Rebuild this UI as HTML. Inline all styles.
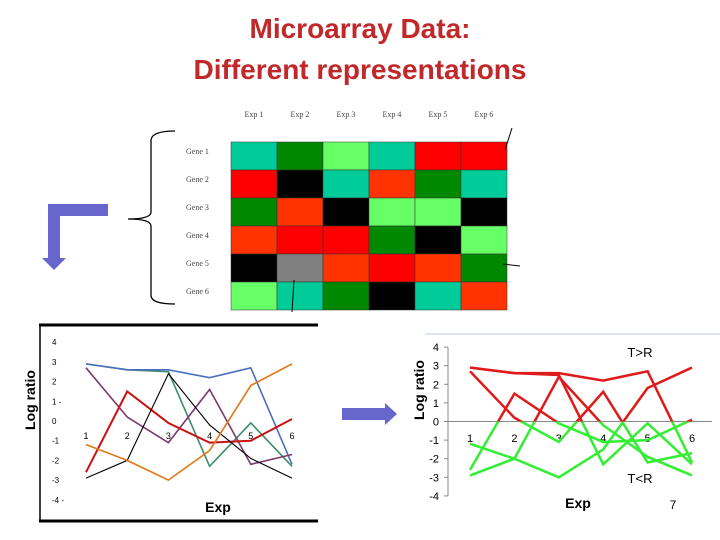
<!DOCTYPE html>
<html><head><meta charset="utf-8"><style>
body{margin:0;background:#fff;}
svg{display:block;font-family:"Liberation Sans",sans-serif;}
</style></head><body>
<svg id="s" width="720" height="540" xmlns="http://www.w3.org/2000/svg">
<text x="360" y="38" text-anchor="middle" font-size="28" font-weight="bold" fill="#c0282a">Microarray Data:</text>
<text x="360" y="79" text-anchor="middle" font-size="28" font-weight="bold" fill="#c0282a">Different representations</text>
<g id="heat"></g>
<path d="M175,131 Q152,131 151,140 L151,212 Q151,219 128,219 Q151,219 151,226 L151,296 Q152,304 175,304" fill="none" stroke="#000" stroke-width="1.3"/>
<path d="M108,204 L48,204 L48,258 L42,258 L54,270 L66,258 L60,258 L60,216 L108,216 Z" fill="#6666cc"/>
<path d="M342,408 L385,408 L385,403 L397,414 L385,425 L385,420 L342,420 Z" fill="#6666cc"/>
<g stroke="#000" stroke-width="1">
<line x1="512" y1="128" x2="505" y2="150"/><line x1="292" y1="312" x2="294" y2="280"/><line x1="520" y1="266" x2="503" y2="264"/>
</g>
<g id="left"></g>
<g id="right"></g>
</svg>
<script>
const heatColors=[["#00cc99","#008800","#66ff66","#00cc99","#ff0000","#ff0000"],["#ff0000","#000000","#00cc99","#ff3300","#008800","#00cc99"],["#008800","#ff3300","#000000","#66ff66","#66ff66","#000000"],["#ff3300","#ff0000","#ff0000","#008800","#000000","#66ff66"],["#000000","#808080","#ff3300","#ff0000","#ff3300","#008800"],["#66ff66","#00cc99","#008800","#000000","#00cc99","#ff3300"]];
const expNames=["Exp 1","Exp 2","Exp 3","Exp 4","Exp 5","Exp 6"];
const geneNames=["Gene 1","Gene 2","Gene 3","Gene 4","Gene 5","Gene 6"];
const xCats=[1,2,3,4,5,6];
const yTicks=[4,3,2,1,0,-1,-2,-3,-4];
const sGreen=[2.9,2.6,2.5,-2.3,-0.1,-2.3];
const sBlue=[2.9,2.6,2.6,2.2,2.7,-2.2];
const sPurple=[2.7,0.2,-1.1,1.6,-2.2,-1.7];
const sRed=[-2.6,1.5,-0.1,-1.1,-1.0,0.1];
const sBlack=[-2.9,-2.0,2.4,-0.2,-1.9,-2.9];
const sOrange=[-1.2,-2.0,-3.0,-1.5,1.8,2.9];
const NS="http://www.w3.org/2000/svg";
function mk(p,t,a,txt){const e=document.createElementNS(NS,t);for(const k in a)e.setAttribute(k,a[k]);if(txt!==undefined)e.textContent=txt;p.appendChild(e);return e;}
const H=document.getElementById('heat');
const cx0=231,cy0=142,cw=46,ch=28;
heatColors.forEach((row,r)=>row.forEach((c,j)=>{const e=mk(H,'rect',{x:cx0+j*cw,y:cy0+r*ch,width:cw,height:ch,fill:c,stroke:'#333','stroke-width':0.5});

}));
expNames.forEach((n,j)=>{const e=mk(H,'text',{x:cx0+j*cw+23,y:117,'text-anchor':'middle','font-size':8,fill:'#444','font-family':'Liberation Serif,serif'},n);

});
geneNames.forEach((n,r)=>{const e=mk(H,'text',{x:186,y:cy0+r*ch+12,'font-size':8,fill:'#444','font-family':'Liberation Serif,serif'},n);

});
const L=document.getElementById('left');
const lx=i=>86+(i-1)*41.2, ly=v=>421-19.7*v;
mk(L,'line',{x1:39,y1:325,x2:318,y2:325,stroke:'#000','stroke-width':3});
mk(L,'line',{x1:39,y1:521,x2:318,y2:521,stroke:'#000','stroke-width':3});
mk(L,'line',{x1:40,y1:324,x2:40,y2:522,stroke:'#000','stroke-width':1.5});
yTicks.forEach(v=>{const e=mk(L,'text',{x:52,y:ly(v)+3,'font-size':8,fill:'#000'},String(v)+(v===1||v===-4?' -':''));

});
xCats.forEach(c=>{const e=mk(L,'text',{x:lx(c),y:439,'font-size':9,'text-anchor':'middle',fill:'#000'},String(c));

});
[[sGreen,'#3d8c6c',1.6],[sBlue,'#4a6fc0',1.6],[sPurple,'#7a3a6a',1.6],[sRed,'#cc1111',2],[sBlack,'#000',1.1],[sOrange,'#e07818',1.6]].forEach(([d,c,w])=>{
const e=mk(L,'polyline',{points:d.map((v,i)=>lx(xCats[i])+','+ly(v)).join(' '),fill:'none',stroke:c,'stroke-width':w});

});
mk(L,'text',{x:0,y:0,transform:'translate(35,400) rotate(-90)','text-anchor':'middle','font-size':14,'font-weight':'bold',fill:'#000'},'Log ratio');
mk(L,'text',{x:218,y:512,'text-anchor':'middle','font-size':14,'font-weight':'bold',fill:'#000'},'Exp');
const R=document.getElementById('right');
const rx=i=>470+(i-1)*44.4, ry=v=>421.5-18.6*v;
mk(R,'line',{x1:425,y1:334,x2:720,y2:334,stroke:'#b8cde0','stroke-width':1});
mk(R,'line',{x1:448,y1:ry(4),x2:448,y2:ry(-4),stroke:'#888','stroke-width':1});
mk(R,'line',{x1:448,y1:ry(0),x2:712,y2:ry(0),stroke:'#888','stroke-width':1});
yTicks.forEach(v=>{mk(R,'line',{x1:444,y1:ry(v),x2:448,y2:ry(v),stroke:'#888'});
const e=mk(R,'text',{x:439,y:ry(v)+4,'font-size':11,'text-anchor':'end',fill:'#000'},String(v));

});
xCats.forEach(c=>{const e=mk(R,'text',{x:rx(c),y:442,'font-size':11,'text-anchor':'middle',fill:'#000'},String(c));

});
const defs=mk(R,'defs',{});
const ca=mk(defs,'clipPath',{id:'above'});mk(ca,'rect',{x:440,y:330,width:280,height:ry(0)-330});
const cb=mk(defs,'clipPath',{id:'below'});mk(cb,'rect',{x:440,y:ry(0),width:280,height:100});
[sGreen,sBlue,sPurple,sRed,sBlack,sOrange].forEach(d=>{
const pts=d.map((v,i)=>rx(xCats[i])+','+ry(v)).join(' ');
const a=mk(R,'polyline',{points:pts,fill:'none',stroke:'#e01a1a','stroke-width':2.5,'clip-path':'url(#above)'});


const b=mk(R,'polyline',{points:pts,fill:'none',stroke:'#33ee33','stroke-width':2.5,'clip-path':'url(#below)'});

});
mk(R,'text',{x:0,y:0,transform:'translate(424,390) rotate(-90)','text-anchor':'middle','font-size':14,'font-weight':'bold',fill:'#000'},'Log ratio');
mk(R,'text',{x:578,y:508,'text-anchor':'middle','font-size':14,'font-weight':'bold',fill:'#000'},'Exp');
mk(R,'text',{x:640,y:357,'text-anchor':'middle','font-size':13,fill:'#000'},'T>R');
mk(R,'text',{x:640,y:483,'text-anchor':'middle','font-size':13,fill:'#000'},'T<R');
mk(R,'text',{x:673,y:509,'text-anchor':'middle','font-size':12,fill:'#000'},'7');
</script>
</body></html>
